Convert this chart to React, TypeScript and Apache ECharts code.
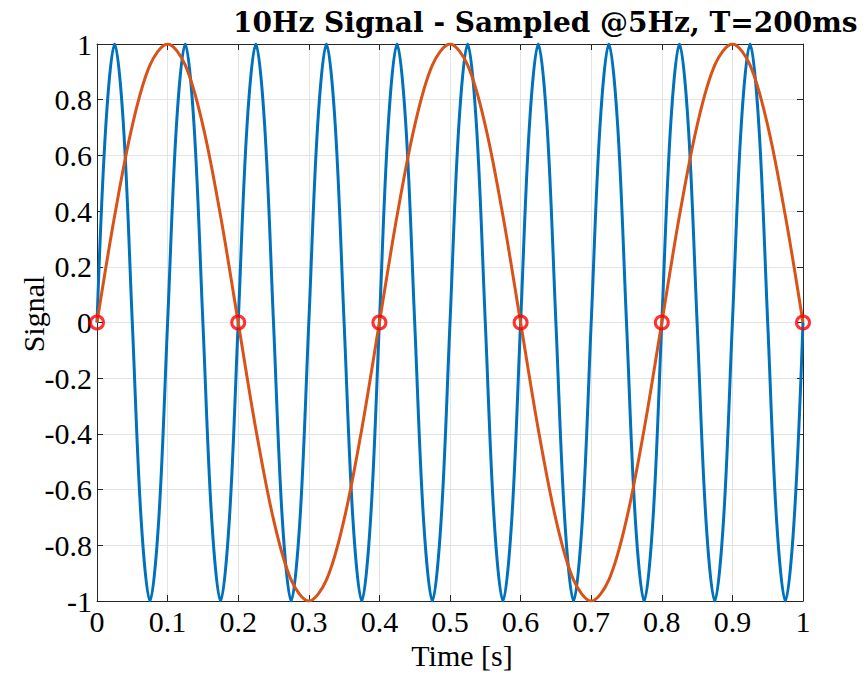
import React, { useEffect, useRef } from "react";
import * as echarts from "echarts";

// 10 Hz signal, read at 0.0125 s steps (0..1 s)
const signalStep = 0.0125;
const signal10Hz = [
  0, 0.707, 1, 0.707, 0, -0.707, -1, -0.707,
  0, 0.707, 1, 0.707, 0, -0.707, -1, -0.707,
  0, 0.707, 1, 0.707, 0, -0.707, -1, -0.707,
  0, 0.707, 1, 0.707, 0, -0.707, -1, -0.707,
  0, 0.707, 1, 0.707, 0, -0.707, -1, -0.707,
  0, 0.707, 1, 0.707, 0, -0.707, -1, -0.707,
  0, 0.707, 1, 0.707, 0, -0.707, -1, -0.707,
  0, 0.707, 1, 0.707, 0, -0.707, -1, -0.707,
  0, 0.707, 1, 0.707, 0, -0.707, -1, -0.707,
  0, 0.707, 1, 0.707, 0, -0.707, -1, -0.707,
  0,
];
// Aliased (reconstructed) signal, read at 0.025 s steps
const aliasStep = 0.025;
const aliasSignal = [
  0, 0.383, 0.707, 0.924, 1, 0.924, 0.707, 0.383,
  0, -0.383, -0.707, -0.924, -1, -0.924, -0.707, -0.383,
  0, 0.383, 0.707, 0.924, 1, 0.924, 0.707, 0.383,
  0, -0.383, -0.707, -0.924, -1, -0.924, -0.707, -0.383,
  0, 0.383, 0.707, 0.924, 1, 0.924, 0.707, 0.383,
  0,
];
// Sample instants (5 Hz) and sampled values
const sampleTimes = [0, 0.2, 0.4, 0.6, 0.8, 1.0];
const sampleValues = [0, 0, 0, 0, 0, 0];

const titleText = "10Hz Signal - Sampled @5Hz, T=200ms";
const xLabel = "Time [s]";
const yLabel = "Signal";

const FONT = "'Liberation Serif', 'Times New Roman', serif";
const TITLE_FONT = "'DejaVu Serif', serif";

export default function App() {
  const ref = useRef<HTMLDivElement>(null);
  useEffect(() => {
    if (!ref.current) return;
    const chart = echarts.init(ref.current, null, { renderer: "svg" });
    const blueData = signal10Hz.map((v, i) => [+(i * signalStep).toFixed(4), v]);
    const orangeData = aliasSignal.map((v, i) => [+(i * aliasStep).toFixed(4), v]);
    const sampleData = sampleTimes.map((t, i) => [t, sampleValues[i]]);
    const axisColor = "#262626";
    const gridColor = "#e3e3e3";
    chart.setOption({
      animation: false,
      backgroundColor: "#ffffff",
      grid: {
        left: 97,
        top: 44,
        right: 64,
        bottom: 74,
        containLabel: false,
        outerBoundsMode: "none",
      },
      xAxis: [
        {
          type: "value",
          min: 0,
          max: 1,
          interval: 0.1,
          position: "bottom",
          axisLine: { show: true, onZero: false, lineStyle: { color: axisColor, width: 1 } },
          axisTick: { show: true, inside: true, length: 6, lineStyle: { color: axisColor } },
          axisLabel: {
            show: true,
            color: "#000",
            fontFamily: FONT,
            fontSize: 30,
            margin: 5,
          },
          splitLine: { show: true, lineStyle: { color: gridColor, width: 1 } },
        },
        {
          type: "value",
          min: 0,
          max: 1,
          interval: 0.1,
          position: "top",
          axisLine: { show: true, onZero: false, lineStyle: { color: axisColor, width: 1 } },
          axisTick: { show: true, inside: true, length: 6, lineStyle: { color: axisColor } },
          axisLabel: { show: false },
          splitLine: { show: false },
        },
      ],
      yAxis: [
        {
          type: "value",
          min: -1,
          max: 1,
          interval: 0.2,
          position: "left",
          axisLine: { show: true, onZero: false, lineStyle: { color: axisColor, width: 1 } },
          axisTick: { show: true, inside: true, length: 6, lineStyle: { color: axisColor } },
          axisLabel: {
            show: true,
            color: "#000",
            fontFamily: FONT,
            fontSize: 30,
            margin: 5,
          },
          splitLine: { show: true, lineStyle: { color: gridColor, width: 1 } },
        },
        {
          type: "value",
          min: -1,
          max: 1,
          interval: 0.2,
          position: "right",
          axisLine: { show: true, onZero: false, lineStyle: { color: axisColor, width: 1 } },
          axisTick: { show: true, inside: true, length: 6, lineStyle: { color: axisColor } },
          axisLabel: { show: false },
          splitLine: { show: false },
        },
      ],
      series: [
        {
          type: "line",
          name: "10Hz",
          data: blueData,
          xAxisIndex: 0,
          yAxisIndex: 0,
          smooth: 0.34,
          showSymbol: false,
          lineStyle: { color: "#0072BD", width: 3 },
          z: 2,
        },
        {
          type: "line",
          name: "alias",
          data: orangeData,
          xAxisIndex: 0,
          yAxisIndex: 0,
          smooth: 0.34,
          showSymbol: false,
          lineStyle: { color: "#D95319", width: 3 },
          z: 3,
        },
        {
          type: "scatter",
          name: "samples",
          data: sampleData,
          xAxisIndex: 0,
          yAxisIndex: 0,
          symbol: "circle",
          symbolSize: 13,
          itemStyle: { color: "rgba(0,0,0,0)", borderColor: "#FF0000", borderWidth: 3 },
          z: 4,
        },
      ],
      graphic: [
        {
          type: "text",
          left: 233,
          top: 8,
          style: {
            text: titleText,
            fontFamily: TITLE_FONT,
            fontWeight: "bold",
            fontSize: 28,
            fill: "#000",
          },
        },
        {
          type: "text",
          x: 462,
          y: 655,
          style: {
            text: xLabel,
            fontFamily: FONT,
            fontSize: 30,
            fill: "#000",
            align: "center",
            verticalAlign: "middle",
          },
        },
        {
          type: "text",
          x: 33,
          y: 314,
          rotation: Math.PI / 2,
          style: {
            text: yLabel,
            fontFamily: FONT,
            fontSize: 30,
            fill: "#000",
            align: "center",
            verticalAlign: "middle",
          },
        },
      ],
    });
    return () => chart.dispose();
  }, []);
  return (
    <div
      ref={ref}
      style={{ position: "fixed", left: 0, top: 0, width: 867, height: 675, background: "#fff" }}
    />
  );
}
